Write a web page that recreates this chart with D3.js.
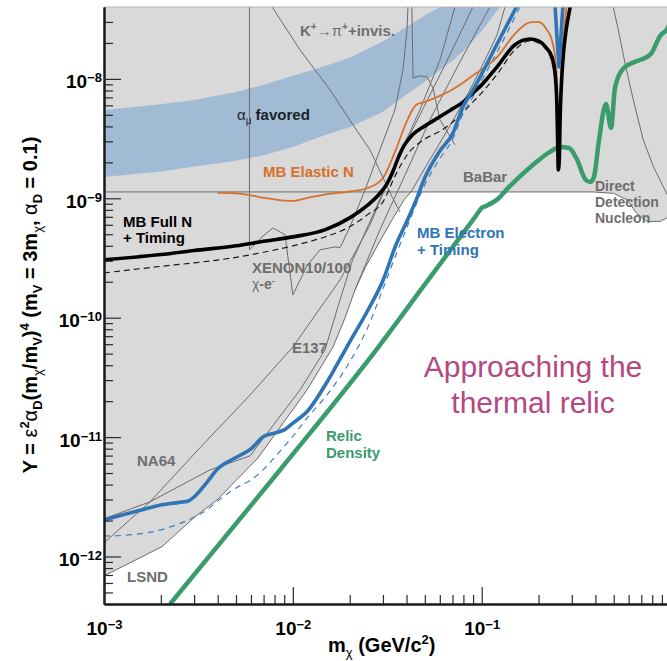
<!DOCTYPE html>
<html>
<head>
<meta charset="utf-8">
<script src="https://cdn.jsdelivr.net/npm/d3@7"></script>
<style>
  body { margin: 0; background: #fff; }
  svg { display: block; }
</style>
</head>
<body>
<svg id="chart" width="667" height="661"></svg>
<script>
// Dark-matter parameter space: Y = eps^2 alpha_D (m_chi/m_V)^4 versus m_chi (GeV/c^2)
// Every series is a list of [m_chi (GeV), Y] pairs.

const massTicks = [1e-3, 1e-2, 1e-1];
const yieldTicks = [1e-12, 1e-11, 1e-10, 1e-9, 1e-8];

// g-2 favoured band (upper and lower edges)
const bandUpper = [[1e-3,5.5e-9],[2e-3,6.14e-9],[3e-3,6.67e-9],[5e-3,7.78e-9],[7e-3,8.91e-9],[1e-2,1.06e-8],
  [1.5e-2,1.29e-8],[2e-2,1.5e-8],[3e-2,2.06e-8],[4e-2,2.73e-8],[5e-2,3.4e-8],[6e-2,4.0e-8],[7e-2,4.76e-8],[8e-2,5.6e-8]];
const bandLower = [[1e-3,1.51e-9],[2e-3,1.68e-9],[3e-3,1.85e-9],[5e-3,2.06e-9],[7e-3,2.29e-9],[1e-2,2.69e-9],
  [1.5e-2,3.4e-9],[2e-2,3.94e-9],[3e-2,5.3e-9],[4e-2,7.4e-9],[5e-2,9.5e-9],[6e-2,1.18e-8],[7e-2,1.42e-8],
  [8e-2,1.71e-8],[9e-2,2.09e-8],[0.1,2.52e-8],[0.12,3.69e-8],[0.14,4.9e-8]];

// Existing limits (thin grey curves)
const lsndE137 = [[1e-3,6.88e-13],[2.03e-3,1.21e-12],[3.03e-3,2.15e-12],[3.97e-3,2.98e-12],[6.54e-3,6.69e-12],
  [1.188e-2,2.48e-11],[1.632e-2,5.69e-11],[1.889e-2,9.96e-11],[2.134e-2,1.71e-10],[2.41e-2,2.61e-10],
  [2.82e-2,4.07e-10],[3.35e-2,6.59e-10],[3.88e-2,9.7e-10],[4.22e-2,1.13e-9],[5.01e-2,1.8e-9],[6.01e-2,2.91e-9],
  [7.22e-2,4.81e-9],[8.67e-2,8.09e-9],[0.1041,1.44e-8],[0.1205,2.33e-8],[0.1328,4.01e-8]];
const na64Steep = [[1e-3,1.3e-12],[1.752e-3,2.87e-12],[3.22e-3,8.13e-12],[5.93e-3,2.25e-11],[1e-2,5.69e-11],
  [1.777e-2,2.07e-10],[2.563e-2,5.98e-10],[3.47e-2,1.91e-9],[4.71e-2,5.5e-9],[6.01e-2,1.44e-8],[7.22e-2,4.01e-8]];
const na64 = [[1e-3,2.07e-12],[1.752e-3,2.87e-12],[3.64e-3,5.31e-12],[5.93e-3,6.96e-12],[1.091e-2,2.48e-11],
  [1.48e-2,5.37e-11],[1.777e-2,1.41e-10],[2.056e-2,2.94e-10],[2.657e-2,7.25e-10],[3.56e-2,2.1e-9],
  [4.71e-2,4.99e-9],[6.39e-2,1.31e-8],[8.99e-2,4.01e-8]];
const e137Upper = [[2.134e-2,1.71e-10],[2.89e-2,5.44e-10],[3.93e-2,1.57e-9],[5.32e-2,4.54e-9],[7.67e-2,1.39e-8],[0.1106,4.01e-8]];
const kaonInvisible = [[7.76e-3,4.01e-8],[1.091e-2,1.75e-8],[1.573e-2,8.09e-9],[2.083e-2,4.12e-9],
  [2.563e-2,2.54e-9],[3.0e-2,1.49e-9],[3.35e-2,1.03e-9],[3.69e-2,7.7e-10]];
const xenon = [[5.89e-3,4.01e-8],[5.89e-3,3.7e-10],[6.86e-3,4.75e-10],[7.85e-3,5.65e-10],[9.09e-3,4.95e-10],
  [1e-2,1.55e-10],[1.188e-2,2.72e-10],[1.392e-2,3.7e-10],[1.672e-2,3.92e-10],[1.777e-2,3.85e-10],
  [2.008e-2,5.77e-10],[2.41e-2,1.17e-9],[2.89e-2,2.54e-9],[3.47e-2,5.5e-9],[3.83e-2,1.19e-8],[4.02e-2,2.57e-8],[4.07e-2,4.01e-8]];
const beamDumpEdge = [[4.27e-2,4.01e-8],[4.33e-2,1.02e-8],[4.71e-2,1.06e-8],[5.13e-2,1.04e-8],[5.52e-2,8.4e-9],
  [6.01e-2,4.54e-9],[7.22e-2,2.8e-9]];
const babarLevel = 1.13e-9;
const babar = [[1e-3,babarLevel],[0.39,babarLevel]];
const directDetection = [[0.39,babarLevel],[0.5,1.1e-9],[0.59,9.7e-10],[0.66,7.5e-10],[0.75,6.4e-10],[0.88,6.4e-10],[1.0,7.1e-10]];
const directDetectionInner = [[0.497,4.01e-8],[0.529,2.57e-8],[0.574,1.35e-8],[0.635,6.67e-9],[0.717,3.08e-9],
  [0.81,1.85e-9],[0.915,1.25e-9],[1.0,9.5e-10]];

// MiniBooNE sensitivities
const mbElastic = [[4e-3,1.11e-9],[5e-3,1.1e-9],[6e-3,1.06e-9],[7e-3,1.01e-9],[8e-3,9.8e-10],[9e-3,9.56e-10],
  [1e-2,9.5e-10],[1.2e-2,1.01e-9],[1.5e-2,1.08e-9],[2e-2,1.14e-9],[2.5e-2,1.22e-9],[3e-2,1.48e-9],[3.5e-2,2.52e-9],
  [4e-2,4.37e-9],[4.5e-2,6.06e-9],[5e-2,6.42e-9],[6e-2,7.2e-9],[7e-2,8.16e-9],[8e-2,9.33e-9],[9e-2,1.07e-8],
  [0.1,1.2e-8],[0.12,1.51e-8],[0.15,2.38e-8],[0.18,2.97e-8],[0.2,3.0e-8],[0.22,2.62e-8],[0.235,2.12e-8],
  [0.245,1.5e-8],[0.25,9.8e-9],[0.2525,4.54e-9],[0.2545,1.8e-9],[0.257,3.74e-9],[0.2605,7.34e-9],[0.266,1.44e-8],
  [0.272,2.33e-8],[0.28,3.79e-8],[0.285,4.6e-8]];
const mbFullN = [[1e-3,3.05e-10],[2e-3,3.38e-10],[3e-3,3.65e-10],[5e-3,4.0e-10],[7e-3,4.36e-10],[1e-2,4.75e-10],
  [1.5e-2,5.49e-10],[2e-2,6.85e-10],[2.5e-2,8.81e-10],[2.8e-2,1.04e-9],[3.15e-2,1.32e-9],[3.4e-2,1.7e-9],
  [3.6e-2,2.15e-9],[3.9e-2,2.8e-9],[4.3e-2,3.4e-9],[5e-2,4.04e-9],
  [6e-2,4.81e-9],[7e-2,5.61e-9],[8e-2,6.42e-9],[9e-2,7.64e-9],[0.1,8.91e-9],[0.12,1.25e-8],[0.15,1.93e-8],
  [0.18,2.16e-8],[0.2,2.08e-8],[0.22,1.82e-8],[0.235,1.53e-8],[0.245,1.08e-8],[0.25,6.1e-9],[0.2525,3.0e-9],
  [0.2545,1.73e-9],[0.2575,2.1e-9],[0.2605,5.0e-9],[0.265,9.8e-9],[0.272,1.75e-8],[0.28,2.57e-8],[0.292,3.79e-8],[0.3,4.6e-8]];
const mbFullNDashed = [[1e-3,2.37e-10],[2e-3,2.69e-10],[3e-3,2.88e-10],[5e-3,3.2e-10],[7e-3,3.53e-10],[1e-2,4.0e-10],
  [1.5e-2,4.79e-10],[2e-2,5.77e-10],[2.5e-2,7.33e-10],[3e-2,9.33e-10],[3.5e-2,1.57e-9],[4e-2,2.27e-9],[5e-2,3.14e-9],
  [6e-2,3.64e-9],[7e-2,4.33e-9],[8e-2,5.29e-9],[9e-2,6.42e-9],[0.1,7.64e-9],[0.12,1.08e-8],[0.15,1.75e-8],
  [0.18,2.08e-8],[0.2,2.0e-8],[0.22,1.75e-8],[0.235,1.39e-8],[0.245,9.8e-9],[0.25,6.67e-9]];
const mbElectron = [[1e-3,2.03e-12],[1.5e-3,2.4e-12],[2e-3,2.7e-12],[2.5e-3,2.84e-12],[2.8e-3,2.92e-12],[3e-3,3.16e-12],
  [3.5e-3,4.16e-12],[4e-3,5.42e-12],[5e-3,6.74e-12],[6e-3,7.97e-12],[7e-3,1.01e-11],[8e-3,1.08e-11],[9e-3,1.15e-11],
  [1e-2,1.31e-11],[1.2e-2,1.66e-11],[1.5e-2,2.81e-11],[1.7e-2,3.96e-11],[2e-2,6.27e-11],[2.5e-2,1.16e-10],
  [3e-2,2.05e-10],[3.5e-2,4.0e-10],[4e-2,6.34e-10],[4.5e-2,9.7e-10],[5e-2,1.49e-9],[6e-2,2.49e-9],[7e-2,3.45e-9],
  [8e-2,5.94e-9],[9e-2,8.09e-9],[0.1,1.1e-8],[0.12,1.93e-8],[0.15,3.79e-8],[0.16,4.6e-8]];
const mbElectronResonance = [[0.2443,4.2e-8],[0.2505,2.2e-8],[0.2566,1.26e-8],[0.2625,2.2e-8],[0.2695,4.2e-8]];
const mbElectronDashed = [[1e-3,1.48e-12],[1.5e-3,1.54e-12],[2e-3,1.67e-12],[2.5e-3,1.88e-12],[3e-3,2.13e-12],
  [3.5e-3,2.45e-12],[4e-3,2.92e-12],[5e-3,3.75e-12],[6e-3,4.38e-12],[7e-3,5.36e-12],[8e-3,6.76e-12],[9e-3,8.37e-12],
  [1e-2,1.015e-11],[1.2e-2,1.47e-11],[1.5e-2,2.21e-11],[2e-2,4.26e-11],[2.5e-2,8.38e-11],[3e-2,1.75e-10],
  [3.5e-2,3.3e-10],[4e-2,5.6e-10],[5e-2,1.3e-9],[6e-2,2.15e-9],[7e-2,3.1e-9],[8e-2,5.2e-9],[9e-2,7.1e-9],
  [0.1,9.7e-9],[0.12,1.65e-8],[0.15,3.3e-8],[0.165,4.5e-8]];

// Thermal relic target
const relicDensity = [[2.24e-3,4.0e-13],[8.55e-3,5.3e-12],[2.89e-2,5.9e-11],[5e-2,1.9e-10],[9.3e-2,7.1e-10],
  [0.1,8.3e-10],[0.105,8.6e-10],[0.12,9.7e-10],[0.14,1.25e-9],[0.19,1.95e-9],[0.23,2.45e-9],[0.26,2.69e-9],
  [0.29,2.64e-9],[0.32,2.1e-9],[0.355,1.43e-9],[0.375,1.37e-9],[0.393,1.51e-9],[0.418,3.08e-9],[0.455,6.17e-9],
  [0.484,3.89e-9],[0.508,8.41e-9],[0.567,1.24e-8],[0.648,1.39e-8],[0.689,1.44e-8],[0.788,1.62e-8],[0.88,2.29e-8],
  [0.96,2.62e-8],[1.0,3.0e-8]];

// ---------------------------------------------------------------------------
const svg = d3.select("#chart");
const FONT = "'Liberation Sans', Arial, Helvetica, sans-serif";
const plotLeft = 104, plotTop = 7, plotBottom = 604;

const x = d3.scaleLog().domain([1e-3, 1]).range([plotLeft, 670.55]);
const y = d3.scaleLog().domain([4e-13, 4e-8]).range([plotBottom, plotTop]);

svg.append("rect").attr("width", 667).attr("height", 661).attr("fill", "#fff");

svg.append("defs").append("clipPath").attr("id", "plot-clip")
  .append("rect").attr("x", plotLeft).attr("y", plotTop).attr("width", 600).attr("height", plotBottom - plotTop);

const plot = svg.append("g").attr("clip-path", "url(#plot-clip)");

const straight = d3.line().x(d => x(d[0])).y(d => y(d[1]));
const smooth = d3.line().x(d => x(d[0])).y(d => y(d[1])).curve(d3.curveMonotoneX);

// excluded region: everything above the lower limit envelope
function crossing(series, level) {
  for (let i = 1; i < series.length; i++) {
    const [m0, y0] = series[i - 1], [m1, y1] = series[i];
    if (y0 < level && y1 >= level) {
      const t = (Math.log(level) - Math.log(y0)) / (Math.log(y1) - Math.log(y0));
      return { i, m: Math.exp(Math.log(m0) + t * (Math.log(m1) - Math.log(m0))) };
    }
  }
  return { i: series.length, m: series[series.length - 1][0] };
}
const cut = crossing(lsndE137, babarLevel);
const excluded = [[1e-3, 4e-8], ...lsndE137.slice(0, cut.i), [cut.m, babarLevel], ...directDetection, [1.0, 4e-8]];
plot.append("path").attr("d", straight(excluded) + "Z").attr("fill", "#d9d9d9");

// g-2 band
const band = [...bandUpper, ...bandLower.slice().reverse()];
plot.append("path").attr("d", d3.line().x(d => x(d[0])).y(d => y(d[1])).curve(d3.curveLinearClosed)(band))
  .attr("fill", "#a2bbd4");

// grey limit curves
const greyLines = [lsndE137, na64Steep, na64, e137Upper, kaonInvisible, xenon, beamDumpEdge, babar, directDetection, directDetectionInner];
greyLines.forEach(s => {
  plot.append("path").attr("d", straight(s)).attr("fill", "none")
    .attr("stroke", "#6b6b6b").attr("stroke-width", 1);
});

// dashed companions
plot.append("path").attr("d", smooth(mbFullNDashed)).attr("fill", "none")
  .attr("stroke", "#1a1a1a").attr("stroke-width", 1.2).attr("stroke-dasharray", "6,4");
plot.append("path").attr("d", smooth(mbElectronDashed)).attr("fill", "none")
  .attr("stroke", "#3f7fbf").attr("stroke-width", 1.2).attr("stroke-dasharray", "6,5");

// MB elastic N
plot.append("path").attr("d", smooth(mbElastic)).attr("fill", "none")
  .attr("stroke", "#d6702c").attr("stroke-width", 1.8);

// relic density
plot.append("path").attr("d", smooth(relicDensity)).attr("fill", "none")
  .attr("stroke", "#3a9c6c").attr("stroke-width", 4.5).attr("stroke-linejoin", "round");

// MB full N + timing
plot.append("path").attr("d", smooth(mbFullN)).attr("fill", "none")
  .attr("stroke", "#000").attr("stroke-width", 3.6).attr("stroke-linejoin", "round");

// MB electron + timing
plot.append("path").attr("d", smooth(mbElectron)).attr("fill", "none")
  .attr("stroke", "#2f74b5").attr("stroke-width", 3.6).attr("stroke-linejoin", "round");
plot.append("path").attr("d", straight(mbElectronResonance)).attr("fill", "none")
  .attr("stroke", "#2f74b5").attr("stroke-width", 3.6).attr("stroke-linejoin", "round");

// ---------------------------------------------------------------------------
// rich text helper: parts = [{t, sub, sup, size, weight, br}]
// a part with br starts a new line at the text's x, lineHeight below the previous one
function rich(g, px, py, parts, opts = {}) {
  const lineHeight = opts.lineHeight || 16;
  const t = g.append("text").attr("x", px).attr("y", py)
    .attr("font-family", FONT).attr("font-size", opts.size || 15)
    .attr("font-weight", opts.weight || "bold").attr("fill", opts.fill || "#000")
    .attr("text-anchor", opts.anchor || "start");
  let shift = 0;
  parts.forEach(p => {
    const s = t.append("tspan").text(p.t);
    const target = p.sub ? p.sub : (p.sup ? -p.sup : 0);
    if (p.br) {
      s.attr("x", px).attr("dy", lineHeight + target - shift);
    } else if (target !== shift) {
      s.attr("dy", target - shift);
    }
    shift = target;
    if (p.size) s.attr("font-size", p.size);
    if (p.weight) s.attr("font-weight", p.weight);
  });
  return t;
}

const labels = svg.append("g");
const grey = "#6e6e6e";
rich(labels, 300, 36, [{t:"K"},{t:"+",sup:6,size:10},{t:"\u2192",weight:"normal"},{t:"\u03c0",weight:"normal"},{t:"+",sup:6,size:10},{t:"+invis."}], {fill: grey});
rich(labels, 237, 120, [{t:"\u03b1",weight:"normal"},{t:"\u03bc",sub:4,size:10,weight:"normal"},{t:" favored"}], {fill: "#1c1f26"});
rich(labels, 263, 177, [{t:"MB Elastic N"}], {fill: "#d6702c"});
rich(labels, 463, 182, [{t:"BaBar"}], {fill: grey});
rich(labels, 595, 191, [{t:"Direct"},{t:"Detection",br:true},{t:"Nucleon",br:true}], {fill: grey, size: 14, lineHeight: 16});
rich(labels, 123, 227, [{t:"MB Full N"},{t:"+ Timing",br:true}], {fill: "#000"});
rich(labels, 252, 273, [{t:"XENON10/100"},{t:"\u03c7",weight:"normal",br:true,size:14},{t:"-e",size:14},{t:"-",sup:5,size:9}], {fill: grey});
rich(labels, 417, 238, [{t:"MB Electron"},{t:"+ Timing",br:true}], {fill: "#2f74b5", lineHeight: 17});
rich(labels, 292, 353, [{t:"E137"}], {fill: grey});
rich(labels, 137, 466, [{t:"NA64"}], {fill: grey});
rich(labels, 127, 582, [{t:"LSND"}], {fill: grey});
rich(labels, 326, 441, [{t:"Relic"},{t:"Density",br:true}], {fill: "#3a9c6c", lineHeight: 17});
rich(labels, 533, 377, [{t:"Approaching the"},{t:"thermal relic",br:true}],
  {fill: "#b4487f", size: 30, weight: "normal", anchor: "middle", lineHeight: 36});

// ---------------------------------------------------------------------------
// axes
const minorOf = (lo, hi) => {
  const out = [];
  for (let e = -13; e <= 0; e++) for (let k = 2; k <= 9; k++) {
    const v = k * Math.pow(10, e);
    if (v > lo && v < hi) out.push(v);
  }
  return out;
};
const supLabel = sel => sel.selectAll(".tick text").each(function(d) {
  const t = d3.select(this).text("10");
  t.append("tspan").attr("dy", -6).attr("font-size", 13)
    .text("\u2212" + Math.round(-Math.log10(d)));
});

// top frame line
svg.append("line").attr("x1", plotLeft).attr("x2", 667).attr("y1", plotTop).attr("y2", plotTop)
  .attr("stroke", "#b5b5b5").attr("stroke-width", 1);

const yAxis = svg.append("g").attr("transform", `translate(${plotLeft},0)`);
yAxis.append("g").call(d3.axisLeft(y).tickValues(minorOf(4e-13, 4e-8)).tickSize(-9).tickSizeOuter(0).tickFormat(() => ""));
yAxis.append("g").call(d3.axisLeft(y).tickValues(yieldTicks).tickSize(-17).tickSizeOuter(0).tickPadding(2).tickFormat(() => ""))
  .call(g => g.selectAll(".tick text").attr("dy", 9).attr("font-family", FONT).attr("font-size", 19)
    .attr("font-weight", "bold").attr("fill", "#000"))
  .call(supLabel);

const xAxis = svg.append("g").attr("transform", `translate(0,${plotBottom})`);
xAxis.append("g").call(d3.axisBottom(x).tickValues(minorOf(1e-3, 0.99)).tickSize(-9).tickSizeOuter(0).tickFormat(() => ""));
xAxis.append("g").call(d3.axisBottom(x).tickValues(massTicks).tickSize(-17).tickSizeOuter(0).tickFormat(() => ""))
  .call(g => g.selectAll(".tick text").attr("y", 31).attr("dy", 0).attr("font-family", FONT).attr("font-size", 19)
    .attr("font-weight", "bold").attr("fill", "#000"))
  .call(supLabel);

svg.selectAll(".domain").attr("stroke", "#1a1a1a").attr("stroke-width", 2);
svg.selectAll(".tick line").attr("stroke", "#2a2a2a").attr("stroke-width", 1.2);

// axis titles
rich(svg, 328, 652, [{t:"m"},{t:"\u03c7",sub:5,size:13,weight:"normal"},{t:" (GeV/c"},{t:"2",sup:8,size:13},{t:")"}], {size: 20});

const yTitle = svg.append("g").attr("transform", "translate(37,305) rotate(-90)");
rich(yTitle, 0, 0, [
  {t:"Y = "},{t:"\u03b5",weight:"normal"},{t:"2",sup:8,size:13},{t:"\u03b1",weight:"normal"},{t:"D",sub:5,size:13},
  {t:"(m"},{t:"\u03c7",sub:5,size:13,weight:"normal"},{t:"/m"},{t:"V",sub:5,size:13},{t:")"},{t:"4",sup:8,size:13},
  {t:" (m"},{t:"V",sub:5,size:13},{t:" = 3m"},{t:"\u03c7",sub:5,size:13,weight:"normal"},{t:",  "},
  {t:"\u03b1",weight:"normal"},{t:"D",sub:5,size:13},{t:" = 0.1)"}
], {size: 20, anchor: "middle"});
</script>
</body>
</html>
